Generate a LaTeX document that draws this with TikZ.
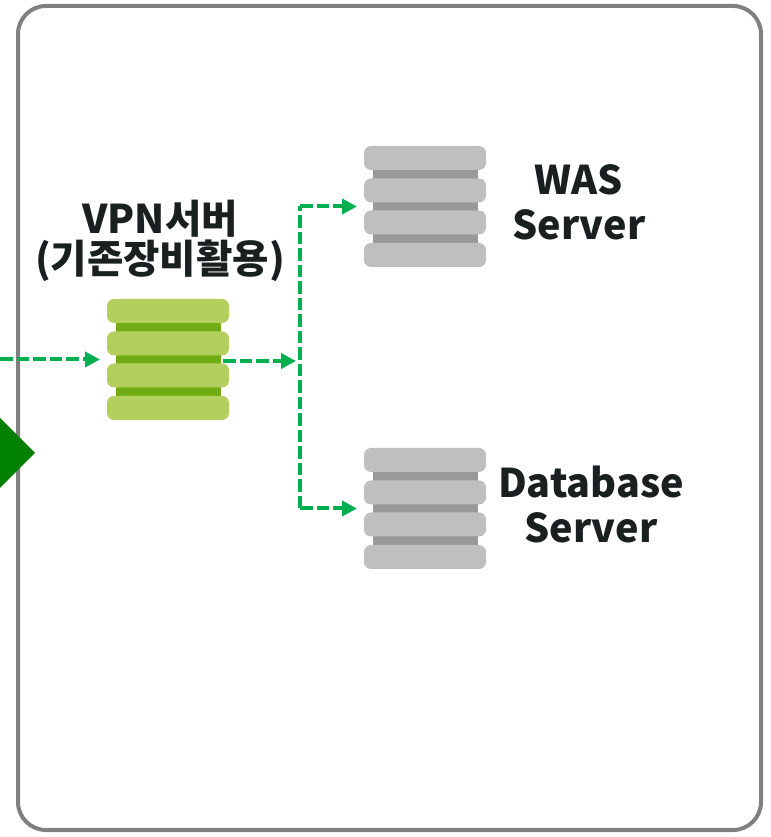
\documentclass[tikz,border=0pt]{standalone}
\usepackage{fontspec}
\setmainfont{Noto Sans CJK KR}
\usetikzlibrary{arrows.meta,calc}

\definecolor{framegray}{HTML}{808080}
\definecolor{gategreen}{HTML}{008000}
\definecolor{linkgreen}{HTML}{00B050}
\definecolor{vpnlight}{HTML}{B3CF5D}
\definecolor{vpndark}{HTML}{70AD14}
\definecolor{srvlight}{HTML}{BFBFBF}
\definecolor{srvdark}{HTML}{999999}
\definecolor{labeltext}{HTML}{1A1F1F}

\tikzset{
  frame/.style={draw=framegray,line width=0.08cm,rounded corners=0.56cm},
  stackbox/.style={minimum width=2.44cm,minimum height=2.42cm,inner sep=0pt,outer sep=0.14cm},
  stackbar/.style={rounded corners=0.14cm},
  link/.style={draw=linkgreen,line width=0.08cm,dash pattern=on 0.25cm off 0.08cm},
  linktip/.style={link,-{Triangle[length=0.3cm,width=0.3cm]}},
  lbl/.style={text=labeltext,align=center,inner sep=0pt,font=\fontsize{22.5}{25.8}\selectfont\bfseries},
}

% #1 name, #2 centre, #3 light colour, #4 dark colour
\newcommand{\serverstack}[4]{
  \node[stackbox] (#1) at #2 {};
  \fill[#4] ($#2+(-1.05,-0.97)$) rectangle ($#2+(1.05,0.97)$);
  \foreach \yy in {-0.97,-0.32,0.32,0.97} {
    \fill[#3,stackbar] ($#2+(-1.22,\yy-0.24)$) rectangle ($#2+(1.22,\yy+0.24)$);
  }
}

\begin{document}
\begin{tikzpicture}
\useasboundingbox (0,0) rectangle (15.4,16.74);

\draw[frame] (0.36,0.14) rectangle (15.22,16.62);

\fill[gategreen] (0,8.38) -- (0.7,7.68) -- (0,6.98) -- cycle;

\serverstack{vpn}{(3.36,9.55)}{vpnlight}{vpndark}
\serverstack{was}{(8.5,12.61)}{srvlight}{srvdark}
\serverstack{db}{(8.5,6.57)}{srvlight}{srvdark}

\node[lbl] (vpnlabel) at (3.2,11.92) {VPN서버\\[-0.1cm](기존장비활용)};
\node[lbl] (waslabel) at (11.58,12.69) {WAS\\Server};
\node[lbl] (dblabel) at (11.82,6.65) {Database\\Server};

\coordinate (inlet) at (0,9.55);
\coordinate (split) at (5.92,9.52);
\coordinate (wasbend) at (6,12.61);
\coordinate (dbbend) at (6,6.57);

\draw[linktip] (inlet) -- (vpn.west |- inlet);
\draw[linktip] ($(vpn.east |- split)+(-0.26,0)$) -- (split);
\draw[link] (dbbend) -- (wasbend);
\draw[linktip] (wasbend) -- (was.west |- wasbend);
\draw[linktip] (dbbend) -- (db.west |- dbbend);

\end{tikzpicture}
\end{document}
